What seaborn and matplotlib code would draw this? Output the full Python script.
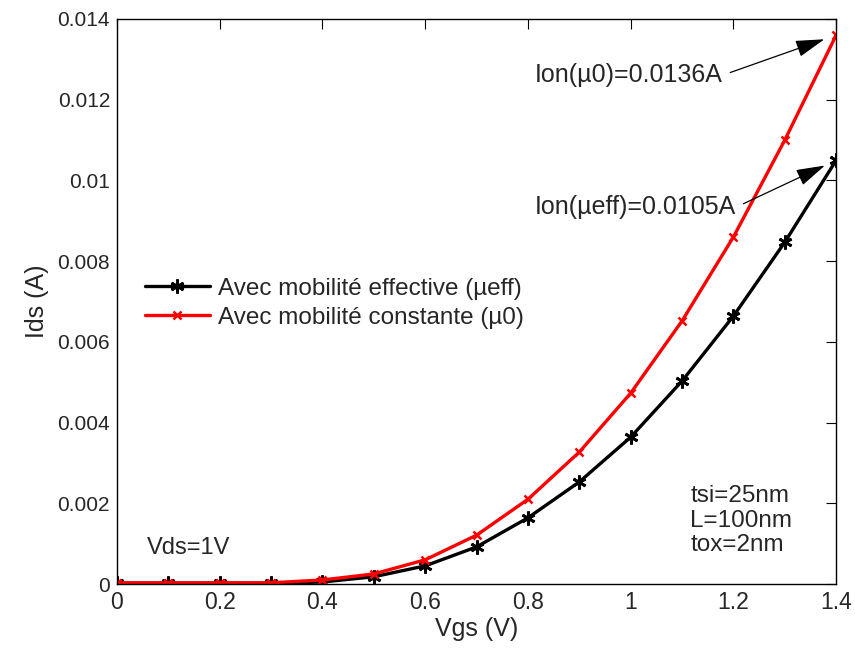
import matplotlib
matplotlib.use("Agg")
import matplotlib.pyplot as plt
import seaborn as sns
import pandas as pd

vgs = [0.0, 0.1, 0.2, 0.3, 0.4, 0.5, 0.6, 0.7, 0.8, 0.9, 1.0, 1.1, 1.2, 1.3, 1.4]
ids_mueff = [0.00002, 0.00002, 0.00002, 0.00002, 0.00005, 0.00018, 0.00045, 0.00092,
             0.00164, 0.00253, 0.00364, 0.00503, 0.00664, 0.00847, 0.0105]
ids_mu0 = [0.00003, 0.00003, 0.00003, 0.00003, 0.0001, 0.00025, 0.0006, 0.00121,
           0.0021, 0.00327, 0.00473, 0.00652, 0.0086, 0.011, 0.0136]
label_eff = "Avec mobilité effective (µeff)"
label_mu0 = "Avec mobilité constante (µ0)"
ion_eff = ids_mueff[-1]
ion_mu0 = ids_mu0[-1]

sns.set_style("white")
plt.rcParams["font.family"] = ["Liberation Sans", "DejaVu Sans"]
plt.rcParams["xtick.direction"] = "in"
plt.rcParams["ytick.direction"] = "in"

df = pd.DataFrame({"Vgs": vgs, "eff": ids_mueff, "mu0": ids_mu0})

fig = plt.figure(figsize=(8.55, 6.54), dpi=100)
ax = fig.add_axes([0.1368, 0.107, 0.8412, 0.864])

asterisk = (6, 2, 0)
sns.lineplot(data=df, x="Vgs", y="eff", ax=ax, color="black", lw=2.4,
             marker=asterisk, markersize=10, markeredgewidth=2.0,
             markeredgecolor="black", label=label_eff)
sns.lineplot(data=df, x="Vgs", y="mu0", ax=ax, color="red", lw=2.4,
             marker="x", markersize=6, markeredgewidth=1.8,
             markeredgecolor="red", label=label_mu0)

ax.set_xlim(0, 1.4)
ax.set_ylim(0, 0.014)
ax.set_xticks([0, 0.2, 0.4, 0.6, 0.8, 1.0, 1.2, 1.4])
ax.set_xticklabels(["0", "0.2", "0.4", "0.6", "0.8", "1", "1.2", "1.4"])
ax.set_yticks([0, 0.002, 0.004, 0.006, 0.008, 0.01, 0.012, 0.014])
ax.set_yticklabels(["0", "0.002", "0.004", "0.006", "0.008", "0.01", "0.012", "0.014"])
ax.tick_params(axis="both", length=7, width=0.8, color="black",
               top=True, right=True, pad=5)
ax.tick_params(axis="x", labelsize=16.5)
ax.tick_params(axis="y", labelsize=15)
for s in ax.spines.values():
    s.set_color("black")
    s.set_linewidth(1.0)

ax.set_xlabel("Vgs (V)", fontsize=18, labelpad=2)
ax.set_ylabel("Ids (A)", fontsize=18, labelpad=6)

ax.legend(loc="center left", bbox_to_anchor=(0.039, 0.497), frameon=False,
          fontsize=17.5, handlelength=2.67, handletextpad=0.33, labelspacing=0.3,
          borderaxespad=0, borderpad=0)

arrow = dict(arrowstyle="-|>,head_length=1.2,head_width=0.35", color="black",
             lw=0.9, mutation_scale=15, shrinkA=3, shrinkB=9, relpos=(1.0, 0.5))
ax.annotate(f"Ion(µ0)={ion_mu0}A", xy=(1.4, ion_mu0), xytext=(0.814, 0.01261),
            fontsize=18, va="center", ha="left", arrowprops=arrow)
ax.annotate(f"Ion(µeff)={ion_eff}A", xy=(1.4, ion_eff), xytext=(0.814, 0.00934),
            fontsize=18, va="center", ha="left", arrowprops=arrow)

ax.text(0.058, 0.00089, "Vds=1V", fontsize=17, va="center", ha="left")
ax.text(1.116, 0.00157, "tsi=25nm\nL=100nm\ntox=2nm", fontsize=17.5, va="center",
        ha="left", linespacing=1.16)

fig.savefig("out.png", dpi=100, facecolor="white")
